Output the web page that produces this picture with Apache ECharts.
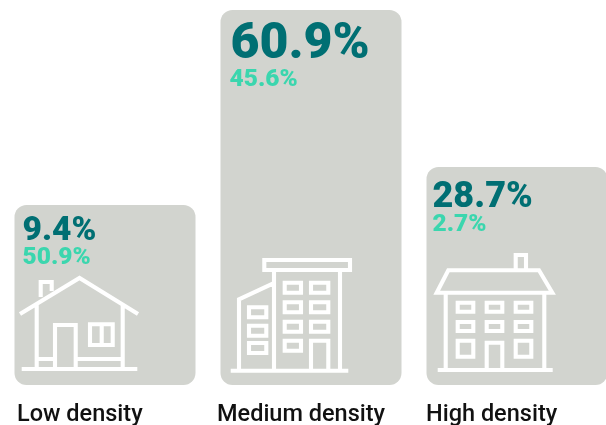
<!DOCTYPE html>
<html>
<head>
<meta charset="utf-8">
<style>
html, body { margin: 0; padding: 0; background: #fff; }
#chart { width: 606px; height: 425px; }
</style>
<script src="https://cdn.jsdelivr.net/npm/echarts@6/dist/echarts.min.js"></script>
</head>
<body>
<div id="chart"></div>
<script>
var categories = ['Low density', 'Medium density', 'High density'];
var darkShare = [9.4, 60.9, 28.7];
var greenShare = [50.9, 45.6, 2.7];
// bar heights do not follow the percentages in the original
var barHeights = [180, 375, 218];

var chart = echarts.init(document.getElementById('chart'));

// text placement per bar, relative to the top left corner of the bar
var darkSize = [33.5, 50, 36];
var darkX = [8, 10, 6];
var darkY = [26.5, 35.5, 31];
var greenX = [8, 9, 6];
var greenY = [53, 70, 58];
var nameX = [2.5, -3.5, -0.5];

var BAR_W = 181;

// building icons
var iconPaths = [
	// low density house
	'M20 314 L79.5 278 L138 314 M36.7 303 V368 M122.7 304 V368 M40.7 297 V282 H51.7 V291 ' +
	'M55 368 V325 H75.7 V368 M90 324.3 H112.7 V345 H90 Z M101.7 324 V345 M21.7 369 H137.3 M37 359 H55 M76 359 H122',
	// medium density block
	'M264.3 260 H350 V270 H264.3 Z M274 270 V370 M340 270 V370 M239 369 V299.3 L273.3 283.3 M230.7 370.7 H348.3 ' +
	'M284.7 282.7 H301 V292.7 H284.7 Z M311 282.7 H328.3 V292.7 H311 Z ' +
	'M284.7 302.3 H301 V312.3 H284.7 Z M311 302.3 H328.3 V312.3 H311 Z ' +
	'M284.7 321.7 H301 V331.7 H284.7 Z M311 321.7 H328.3 V331.7 H311 Z ' +
	'M284.7 340.7 H301 V350.7 H284.7 Z M311 370 V340.7 H328.3 V370 ' +
	'M249 307.3 H266.3 V317.3 H249 Z M249 325.7 H266.3 V335.7 H249 Z M249 343 H266.3 V353 H249 Z',
	// high density terrace
	'M515.7 269 V255 H526 V269 M448.3 270.3 H539 L552.3 292.7 H436.7 Z M445.7 293 V370 M544.3 293 V370 M437.7 370 H552.7 ' +
	'M457.7 302.7 H473.3 V311.7 H457.7 Z M486.7 302.7 H502.3 V311.7 H486.7 Z M515.7 302.7 H531.3 V311.7 H515.7 Z ' +
	'M457.7 322 H473.3 V331 H457.7 Z M486.7 322 H502.3 V331 H486.7 Z M515.7 322 H531.3 V331 H515.7 Z ' +
	'M457.7 340.7 H473.3 V356.7 H457.7 Z M515.7 340.7 H531.3 V356.7 H515.7 Z M486.7 370 V342.7 H502.3 V370'
];

function renderExtras(params, api) {
	var i = params.dataIndex;
	var top = api.coord([i, barHeights[i]]);
	var base = api.coord([i, 0]);
	var left = top[0] - BAR_W / 2;
	return {
		type: 'group',
		children: [
			{
				type: 'path',
				shape: { pathData: iconPaths[i] },
				style: { fill: 'none', stroke: '#ffffff', lineWidth: 4.1 }
			},
			{
				type: 'text',
				style: {
					x: left + darkX[i], y: top[1] + darkY[i],
					text: darkShare[i] + '%',
					fill: '#006f73',
					font: '900 ' + darkSize[i] + 'px Roboto',
					verticalAlign: 'middle'
				}
			},
			{
				type: 'text',
				style: {
					x: left + greenX[i], y: top[1] + greenY[i],
					text: greenShare[i].toFixed(1) + '%',
					fill: '#3bd6ae',
					font: '900 24.5px Roboto',
					verticalAlign: 'middle'
				}
			},
			{
				type: 'text',
				style: {
					x: left + nameX[i], y: base[1] + 30.5,
					text: categories[i],
					fill: '#111111',
					font: '500 23.5px Roboto',
					verticalAlign: 'middle'
				}
			}
		]
	};
}

var option = {
	animation: false,
	grid: { left: 2, top: 0, right: -14, bottom: 40, outerBoundsMode: 'none' },
	xAxis: {
		type: 'category',
		data: categories,
		axisLine: { show: false },
		axisTick: { show: false },
		axisLabel: { show: false }
	},
	yAxis: {
		type: 'value',
		min: 0,
		max: 385,
		show: false
	},
	series: [
		{
			type: 'bar',
			data: barHeights,
			barWidth: BAR_W,
			itemStyle: { color: '#d2d4cf', borderRadius: 12 }
		},
		{
			type: 'custom',
			data: darkShare,
			clip: false,
			z: 5,
			renderItem: renderExtras
		}
	]
};
chart.setOption(option);
</script>
</body>
</html>
